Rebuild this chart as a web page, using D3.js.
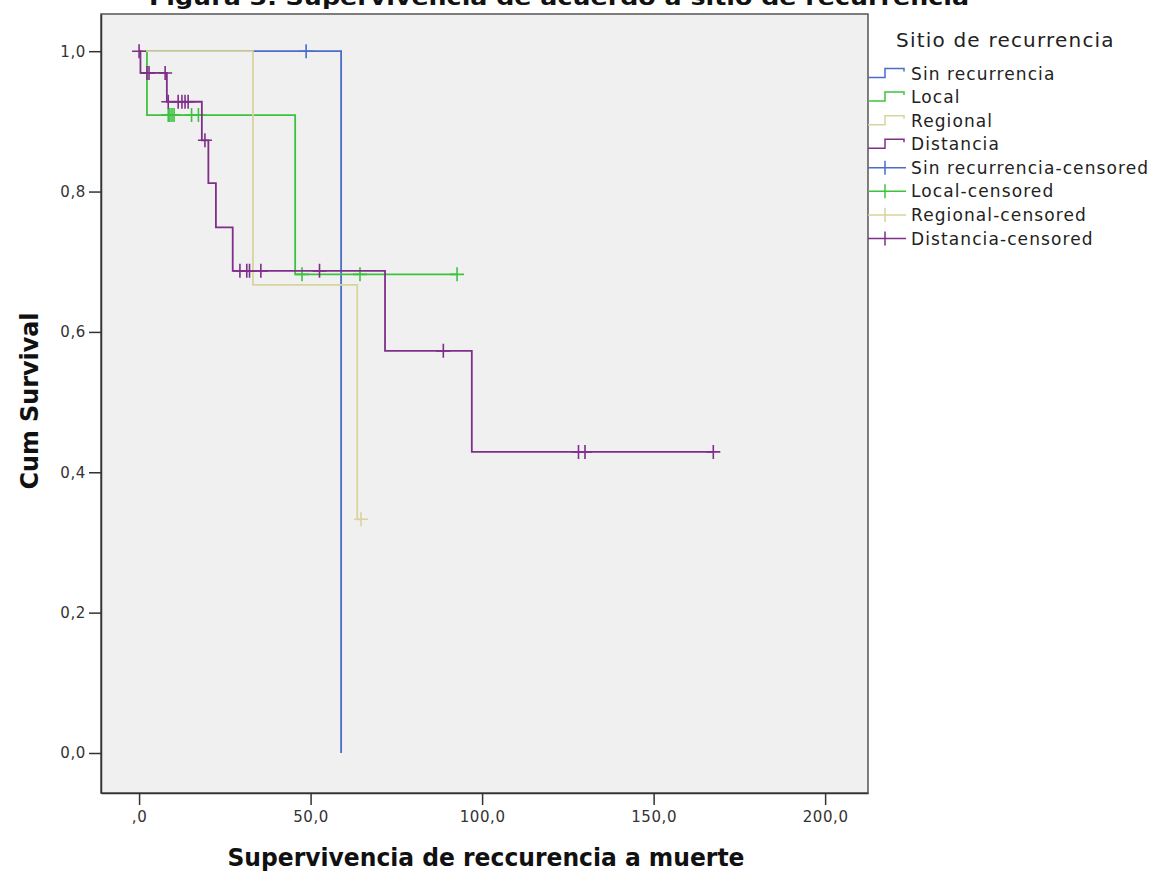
<!DOCTYPE html>
<html>
<head>
<meta charset="utf-8">
<script src="https://cdn.jsdelivr.net/npm/d3@7"></script>
<style>
  body { margin: 0; background: #fff; }
  svg { display: block; }
</style>
</head>
<body>
<div id="chart"></div>
<script>
// Series in legend order
const groups = ["Sin recurrencia", "Local", "Regional", "Distancia"];

// Event times (months) and survival after each event
const sinEventTimes = [58.9];
const sinEventSurv = [0];
const sinCensored = [48.7];

const localEventTimes = [2.3, 45.5];
const localEventSurv = [0.909, 0.682];
const localCensored = [8.5, 9.0, 9.6, 10.2, 15.3, 17.3, 47.5, 64.4, 92.7];

const regionalEventTimes = [33.2, 63.6];
const regionalEventSurv = [0.667, 0.333];
const regionalCensored = [64.7];

const distEventTimes = [0.4, 8.1, 18.3, 20.2, 22.4, 27.3, 71.7, 97.0];
const distEventSurv = [0.969, 0.928, 0.873, 0.812, 0.749, 0.687, 0.573, 0.429];
const distCensored = [0, 2.3, 2.9, 7.6, 8.5, 11.4, 12.5, 13.4, 14.3, 19.2,
                      29.4, 31.4, 32.2, 35.5, 52.6, 88.7, 128.1, 130.0, 167.4];

const xTicks = [0, 50, 100, 150, 200];
const yTicks = [0, 0.2, 0.4, 0.6, 0.8, 1.0];

const eventTimes = [sinEventTimes, localEventTimes, regionalEventTimes, distEventTimes];
const eventSurv = [sinEventSurv, localEventSurv, regionalEventSurv, distEventSurv];
const censored = [sinCensored, localCensored, regionalCensored, distCensored];

const color = d3.scaleOrdinal()
    .domain(groups)
    .range(["#4b6cc8", "#3ec23e", "#d8d49e", "#7f2f8a"]);

const W = 1157, H = 875;
const frame = { left: 101, right: 868, top: 14, bottom: 793 };

const svg = d3.select("#chart").append("svg")
    .attr("width", W)
    .attr("height", H);

const x = d3.scaleLinear().domain([-11.1, 212.5]).range([frame.left, frame.right]);
const y = d3.scaleLinear().domain([-0.057, 1.053]).range([frame.bottom, frame.top]);

const comma = v => d3.format(".1f")(v).replace(".", ",");

// plot background
svg.append("rect")
    .attr("x", frame.left).attr("y", frame.top)
    .attr("width", frame.right - frame.left)
    .attr("height", frame.bottom - frame.top)
    .attr("fill", "#f0f0f0")
    .attr("stroke", "#555")
    .attr("stroke-width", 1.5);

// title (partly above the top edge, as in the original)
svg.append("text")
    .attr("x", 559).attr("y", 5)
    .attr("text-anchor", "middle")
    .attr("font-family", "'Liberation Sans Narrow', 'DejaVu Sans Condensed', sans-serif")
    .attr("font-weight", "bold")
    .attr("font-size", 22)
    .attr("textLength", 820)
    .attr("lengthAdjust", "spacingAndGlyphs")
    .attr("fill", "#111")
    .text("Figura 3. Supervivencia de acuerdo a sitio de recurrencia");

// axes
const yAxis = svg.append("g")
    .attr("transform", `translate(${frame.left},0)`)
    .call(d3.axisLeft(y).tickValues(yTicks).tickSizeInner(12).tickSizeOuter(0).tickPadding(3)
        .tickFormat(comma));

const xAxis = svg.append("g")
    .attr("transform", `translate(0,${frame.bottom})`)
    .call(d3.axisBottom(x).tickValues(xTicks).tickSizeInner(12).tickSizeOuter(0).tickPadding(6)
        .tickFormat(v => v === 0 ? ",0" : comma(v)));

[yAxis, xAxis].forEach(g => {
    g.select(".domain").attr("stroke", "#333").attr("stroke-width", 1.5);
    g.selectAll(".tick line").attr("stroke", "#333").attr("stroke-width", 1.5);
    g.selectAll(".tick text")
        .attr("font-family", "'DejaVu Sans', sans-serif")
        .attr("font-size", 15)
        .attr("letter-spacing", 0.6)
        .attr("fill", "#333");
});

// axis titles
svg.append("text")
    .attr("transform", "translate(38,401) rotate(-90)")
    .attr("text-anchor", "middle")
    .attr("font-family", "'Liberation Sans Narrow', 'DejaVu Sans Condensed', sans-serif")
    .attr("font-weight", "bold")
    .attr("font-size", 25)
    .attr("textLength", 177)
    .attr("lengthAdjust", "spacingAndGlyphs")
    .attr("fill", "#111")
    .text("Cum Survival");

svg.append("text")
    .attr("x", 486).attr("y", 866)
    .attr("text-anchor", "middle")
    .attr("font-family", "'Liberation Sans Narrow', 'DejaVu Sans Condensed', sans-serif")
    .attr("font-weight", "bold")
    .attr("font-size", 25)
    .attr("textLength", 517)
    .attr("lengthAdjust", "spacingAndGlyphs")
    .attr("fill", "#111")
    .text("Supervivencia de reccurencia a muerte");

// survival curves
function survAt(i, t) {
    let s = 1;
    eventTimes[i].forEach((et, k) => { if (et <= t) s = eventSurv[i][k]; });
    return s;
}

const plot = svg.append("g");

groups.forEach((g, i) => {
    const pts = [[0, 1]];
    let prev = 1;
    eventTimes[i].forEach((t, k) => {
        pts.push([t, prev]);
        pts.push([t, eventSurv[i][k]]);
        prev = eventSurv[i][k];
    });
    const lastT = d3.max([d3.max(eventTimes[i]), d3.max(censored[i])]);
    pts.push([lastT, prev]);

    plot.append("path")
        .datum(pts)
        .attr("fill", "none")
        .attr("stroke", color(g))
        .attr("stroke-width", 1.8)
        .attr("d", d3.line().x(d => x(d[0])).y(d => y(d[1])));

    // censor marks
    plot.selectAll(null)
        .data(censored[i])
        .enter()
        .append("path")
        .attr("fill", "none")
        .attr("stroke", color(g))
        .attr("stroke-width", 1.6)
        .attr("d", t => {
            const cx = x(t), cy = y(survAt(i, t));
            return `M${cx - 7},${cy}H${cx + 7}M${cx},${cy - 7}V${cy + 7}`;
        });
});

// legend
const legend = svg.append("g");
legend.append("text")
    .attr("x", 896).attr("y", 47)
    .attr("font-family", "'DejaVu Sans', sans-serif")
    .attr("font-size", 20)
    .attr("letter-spacing", 1.2)
    .attr("fill", "#222")
    .text("Sitio de recurrencia");

const legendItems = groups.map(g => ({ name: g, key: g, censored: false }))
    .concat(groups.map(g => ({ name: g + "-censored", key: g, censored: true })));

const rowY = d3.scalePoint().domain(d3.range(legendItems.length)).range([73.5, 238.5]);

legendItems.forEach((d, k) => {
    const cy = rowY(k);
    const row = legend.append("g");
    if (!d.censored) {
        row.append("path")
            .attr("fill", "none")
            .attr("stroke", color(d.key))
            .attr("stroke-width", 1.5)
            .attr("d", `M868,${cy + 4}H885V${cy - 5}H904V${cy - 2}`);
    } else {
        row.append("path")
            .attr("fill", "none")
            .attr("stroke", color(d.key))
            .attr("stroke-width", 1.5)
            .attr("d", `M868,${cy}H906M885,${cy - 7}V${cy + 7}`);
    }
    row.append("text")
        .attr("x", 911).attr("y", cy + 6)
        .attr("font-family", "'DejaVu Sans', sans-serif")
        .attr("font-size", 17)
        .attr("letter-spacing", 1.1)
        .attr("fill", "#222")
        .text(d.name);
});
</script>
</body>
</html>
